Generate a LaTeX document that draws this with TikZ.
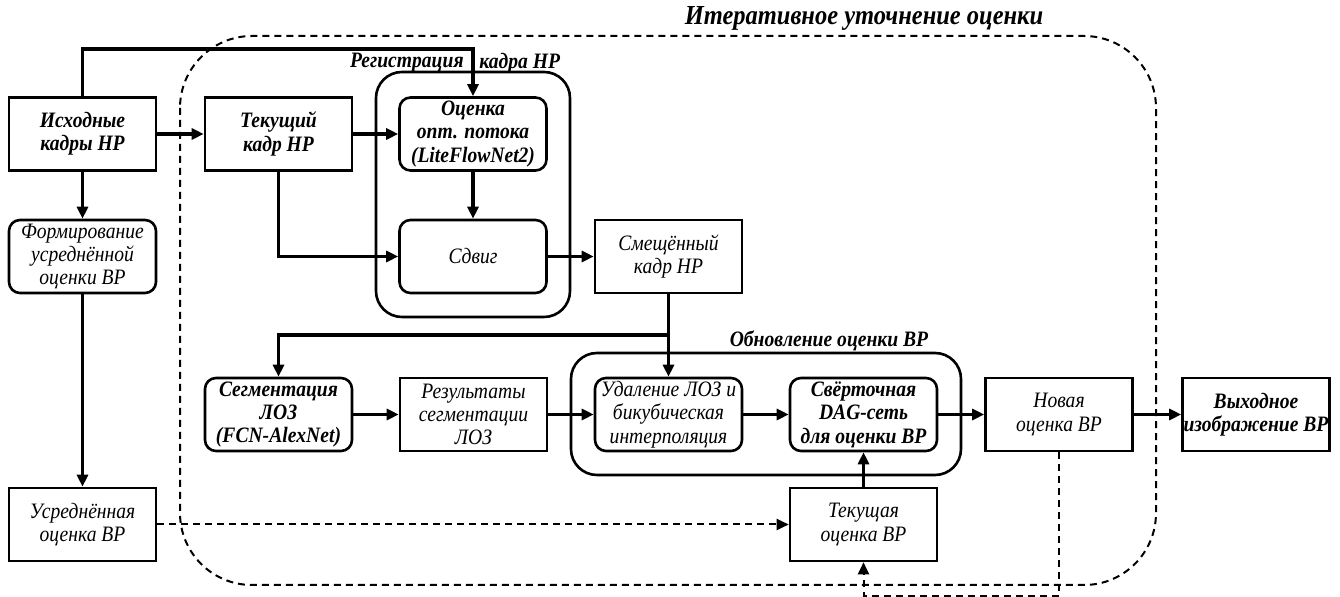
\documentclass[tikz,border=0pt]{standalone}
\usepackage{fontspec}
\setmainfont{Liberation Serif}[FakeStretch=0.89]
\usetikzlibrary{arrows.meta,calc}
\tikzset{
  blk/.style={draw, line width=1.3pt, minimum width=73.5pt, minimum height=36.5pt,
    align=center, inner sep=0pt, font=\fontsize{11}{11.7}\selectfont\itshape},
  rblk/.style={blk, rounded corners=5.5pt},
  bf/.style={font=\fontsize{11}{11.7}\selectfont\bfseries\itshape},
  grp/.style={draw, line width=1.3pt, rounded corners=13pt},
  arr/.style={line width=1.6pt, -{Triangle[length=6pt,width=5.5pt]}},
  dsh/.style={line width=1pt, dash pattern=on 3.5pt off 2.5pt},
  darr/.style={dsh, -{Triangle[length=6pt,width=5.5pt]}},
  lbl/.style={font=\fontsize{11}{13}\selectfont\bfseries\itshape, inner sep=0pt}
}
\begin{document}
\begin{tikzpicture}[x=0.5pt,y=-0.5pt]
\useasboundingbox (0,0) rectangle (1340,597);
% big dashed region
\draw[dsh, rounded corners=36pt] (180,36) rectangle (1156,585);
\node[font=\fontsize{13.75}{16}\selectfont\bfseries\itshape, inner sep=0pt] (title) at (864,18) {Итеративное уточнение оценки};
% groups
\draw[grp] (376,72) rectangle (570,317);
\node[lbl, anchor=east] (regA) at (464,63) {Регистрация};
\node[lbl, anchor=west] (regB) at (479,63) {кадра НР};
\draw[grp] (571,353) rectangle (961,475);
\node[lbl] (updl) at (829,341) {Обновление оценки ВР};
% nodes
\node[blk, bf] (src) at (82.5,134) {Исходные\\кадры НР};
\node[blk, bf] (cur) at (278.5,134) {Текущий\\кадр НР};
\node[rblk, bf] (flow) at (473,134) {Оценка\\опт. потока\\(LiteFlowNet2)};
\node[rblk] (shift) at (473,256.5) {Сдвиг};
\node[blk] (shifted) at (668.5,256.5) {Смещённый\\кадр НР};
\node[rblk] (form) at (82.5,256.5) {Формирование\\усреднённой\\оценки ВР};
\node[blk] (avg) at (82.5,524.5) {Усреднённая\\оценка ВР};
\node[rblk, bf] (seg) at (278.5,414.5) {Сегментация\\ЛОЗ\\(FCN-AlexNet)};
\node[blk] (res) at (473.5,414.5) {Результаты\\сегментации\\ЛОЗ};
\node[rblk] (del) at (668.5,414.5) {Удаление ЛОЗ и\\бикубическая\\интерполяция};
\node[rblk, bf] (dag) at (863.5,414.5) {Свёрточная\\DAG-сеть\\для оценки ВР};
\node[blk] (new) at (1059,414.5) {Новая\\оценка ВР};
\node[blk, bf] (out) at (1256,414.5) {Выходное\\изображение ВР};
\node[blk] (curest) at (863.5,524.5) {Текущая\\оценка ВР};
% connectors
\draw[arr] (src.east) -- (cur.west);
\draw[arr] (cur.east) -- (flow.west);
\coordinate (tl) at (82.5,49);
\draw[arr] (src.north) -- (tl) -| (flow.north);
\draw[arr] (cur.south) |- (shift.west);
\draw[arr] (flow.south) -- (shift.north);
\draw[arr] (shift.east) -- (shifted.west);
\draw[arr] (shifted.south) -- (del.north);
\coordinate (j) at (668.5,335);
\draw[arr] (j) -| (seg.north);
\draw[arr] (seg.east) -- (res.west);
\draw[arr] (res.east) -- (del.west);
\draw[arr] (del.east) -- (dag.west);
\draw[arr] (dag.east) -- (new.west);
\draw[arr] (new.east) -- (out.west);
\draw[arr] (curest.north) -- (dag.south);
\draw[arr] (src.south) -- (form.north);
\draw[arr] (form.south) -- (avg.north);
\draw[darr] (avg.east) -- (curest.west);
\coordinate (fb) at (1059,596);
\draw[darr] (new.south) -- (fb) -| (curest.south);
\end{tikzpicture}
\end{document}
